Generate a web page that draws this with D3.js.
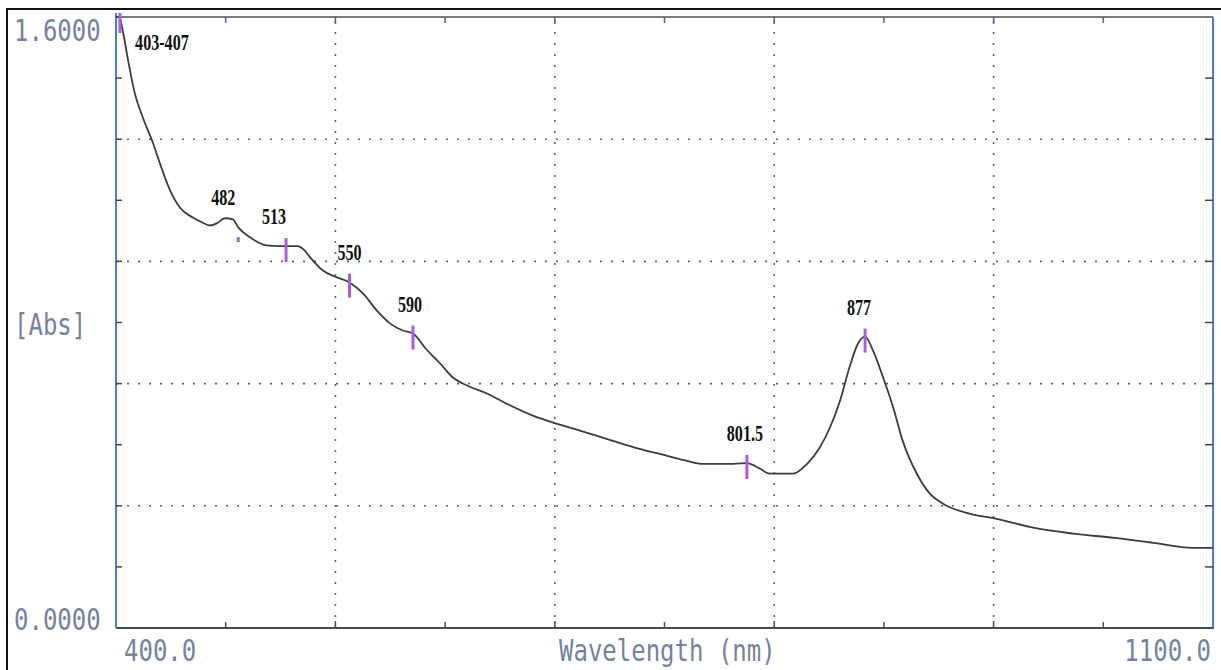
<!DOCTYPE html>
<meta charset="utf-8">
<style>
  body { margin: 0; background: #fff; }
  .ax { font-family: "DejaVu Sans Mono", monospace; font-size: 30px; fill: #7482a2; }
  .pk { font-family: "Liberation Serif", serif; font-size: 23px; fill: #111; font-weight: bold; }
</style>
<script src="https://d3js.org/d3.v7.min.js"></script>
<div id="chart"></div>
<script>

// spectrum (wavelength nm, absorbance)
var wl = [400, 402, 404.5, 407.7, 412, 417, 423.6, 428, 434.5, 441, 449, 455, 460, 464.5, 469.5, 474.6, 478,
  485.5, 496, 504, 516, 520, 524, 532, 541, 549, 557.6, 566.5, 575, 583, 589.5, 598, 607, 615, 624, 636.7,
  649.5, 666, 679, 696, 717, 734, 751.6, 764, 774.6, 794, 802.6, 811, 817, 832, 841, 849, 855.6, 862, 868,
  873.5, 878, 883, 889.5, 896, 902, 911, 919.5, 928, 945, 962, 986, 1011, 1037, 1062, 1087, 1100];
var abs = [1.60, 1.60, 1.56, 1.487, 1.40, 1.338, 1.27, 1.217, 1.146, 1.10, 1.075, 1.062, 1.054, 1.06, 1.073, 1.07, 1.049,
  1.023, 1.002, 1.0, 1.0, 0.99, 0.970, 0.936, 0.918, 0.905, 0.876, 0.831, 0.797, 0.779, 0.771, 0.730, 0.692, 0.656, 0.635, 0.614,
  0.587, 0.556, 0.538, 0.517, 0.490, 0.469, 0.451, 0.438, 0.430, 0.430, 0.432, 0.417, 0.404, 0.404, 0.430, 0.472, 0.525, 0.595, 0.682,
  0.745, 0.763, 0.727, 0.656, 0.577, 0.490, 0.404, 0.351, 0.325, 0.299, 0.286, 0.262, 0.247, 0.236, 0.223, 0.210, 0.210];

// peak markers
var peakWl = [402.5, 478, 508.5, 549, 589.5, 802.6, 878];
var peakAbs = [1.60, 1.05, 1.0, 0.907, 0.771, 0.432, 0.763];
var peakLabel = ["403-407", "482", "513", "550", "590", "801.5", "877"];

var xGrid = [540, 680, 820, 960];
var xMinor = [470, 610, 750, 890, 1030];
var yGrid = [0.32, 0.64, 0.96, 1.28];
var yMinor = [0.16, 0.48, 0.80, 1.12, 1.44];

var W = 1221, H = 670;
var pLeft = 116, pRight = 1213, pTop = 17, pBottom = 628;

var svg = d3.select("#chart").append("svg")
  .attr("width", W).attr("height", H);

var x = d3.scaleLinear().domain([400, 1100]).range([pLeft, pRight]);
var y = d3.scaleLinear().domain([0, 1.6]).range([pBottom, pTop]);

// outer frame
svg.append("rect").attr("x", 7).attr("y", 9).attr("width", W).attr("height", H)
  .attr("fill", "none").attr("stroke", "#111").attr("stroke-width", 2);

// dotted grid
svg.selectAll(".vg").data(xGrid).enter().append("line")
  .attr("x1", d => x(d)).attr("x2", d => x(d)).attr("y1", pTop + 4).attr("y2", pBottom)
  .attr("stroke", "#5a6078").attr("stroke-width", 1.6).attr("stroke-dasharray", "2,9");
svg.selectAll(".hg").data(yGrid).enter().append("line")
  .attr("x1", pLeft).attr("x2", pRight).attr("y1", d => y(d)).attr("y2", d => y(d))
  .attr("stroke", "#5a6078").attr("stroke-width", 1.6).attr("stroke-dasharray", "2,9");

// frame lines
svg.append("line").attr("x1", pLeft).attr("x2", pRight).attr("y1", pTop).attr("y2", pTop)
  .attr("stroke", "#7a7a7a").attr("stroke-width", 2);
svg.append("line").attr("x1", pLeft).attr("x2", pRight + 1).attr("y1", pBottom).attr("y2", pBottom)
  .attr("stroke", "#4a4a4a").attr("stroke-width", 2);
svg.append("line").attr("x1", pLeft).attr("x2", pLeft).attr("y1", pTop - 4).attr("y2", pBottom)
  .attr("stroke", "#3f7fe0").attr("stroke-width", 2);
svg.append("line").attr("x1", pRight).attr("x2", pRight).attr("y1", pTop).attr("y2", pBottom)
  .attr("stroke", "#3f7fe0").attr("stroke-width", 2);

// ticks pointing into the plot
var xt = xGrid.map(d => ({v: d, len: 7})).concat(xMinor.map(d => ({v: d, len: 6})));
svg.selectAll(".xtb").data(xt).enter().append("line")
  .attr("x1", d => x(d.v)).attr("x2", d => x(d.v)).attr("y1", pBottom).attr("y2", d => pBottom - d.len)
  .attr("stroke", "#4a4a6a").attr("stroke-width", 1.5);
svg.selectAll(".xtt").data(xt).enter().append("line")
  .attr("x1", d => x(d.v)).attr("x2", d => x(d.v)).attr("y1", pTop).attr("y2", d => pTop + d.len)
  .attr("stroke", "#5a5a9a").attr("stroke-width", 1.5);
var yt = yGrid.concat(yMinor);
svg.selectAll(".ytl").data(yt).enter().append("line")
  .attr("x1", pLeft).attr("x2", pLeft + 6).attr("y1", d => y(d)).attr("y2", d => y(d))
  .attr("stroke", "#444").attr("stroke-width", 1.5);
svg.selectAll(".ytr").data(yt).enter().append("line")
  .attr("x1", pRight).attr("x2", pRight - 8).attr("y1", d => y(d)).attr("y2", d => y(d))
  .attr("stroke", "#444").attr("stroke-width", 1.5);

// spectrum
var pts = wl.map((d, i) => [d, abs[i]]);
svg.append("path").datum(pts)
  .attr("fill", "none").attr("stroke", "#3c3c3c").attr("stroke-width", 1.8)
  .attr("d", d3.line().curve(d3.curveMonotoneX).x(d => x(d[0])).y(d => y(d[1])));

// peak markers (482 is only a small dot below the curve)
svg.selectAll(".mk").data(peakWl).enter().append("line")
  .attr("x1", d => x(d)).attr("x2", d => x(d))
  .attr("y1", (d, i) => i == 1 ? y(peakAbs[i]) + 10 : Math.max(pTop - 4, y(peakAbs[i]) - 8))
  .attr("y2", (d, i) => i == 1 ? y(peakAbs[i]) + 15 : Math.max(pTop + 8, y(peakAbs[i]) + 16))
  .attr("stroke", "#a85ce8").attr("stroke-width", 3);

// peak labels
var pkDx = [42, -15, -12, 0, -3, -2, -6];
svg.selectAll(".pk").data(peakLabel).enter().append("text")
  .attr("class", "pk")
  .attr("text-anchor", "middle")
  .attr("transform", (d, i) => {
    var ly = i == 0 ? 50 : y(peakAbs[i]) - 22;
    return "translate(" + (x(peakWl[i]) + pkDx[i]) + "," + ly + ") scale(0.7,1)";
  })
  .text(d => d);

// axis texts
function axText(s, tx, ty, anchor) {
  svg.append("text").attr("class", "ax").attr("text-anchor", anchor || "start")
    .attr("transform", "translate(" + tx + "," + ty + ") scale(0.8,1)")
    .text(s);
}
axText("1.6000", 14, 41);
axText("[Abs]", 14, 335);
axText("0.0000", 14, 630);
axText("400.0", 124, 661);
axText("Wavelength (nm)", 559, 661);
axText("1100.0", 1211, 661, "end");

</script>
